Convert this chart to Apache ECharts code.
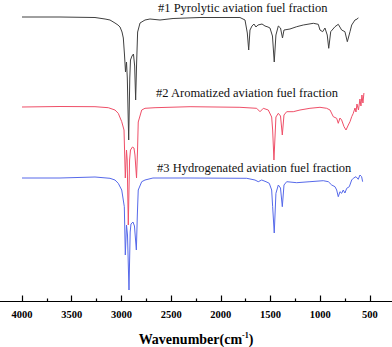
<!DOCTYPE html>
<html>
<head>
<meta charset="utf-8">
<script src="https://cdn.jsdelivr.net/npm/echarts@6/dist/echarts.min.js"></script>
<style>
  html, body { margin: 0; padding: 0; background: #fff; }
  #ftir { width: 392px; height: 347px; }
</style>
</head>
<body>
<div id="ftir"></div>
<script>
// FTIR spectra, [wavenumber (cm-1), offset signal (a.u.)]
const pyrolytic = [
  [4000, 284.5], [3618, 284.5], [3266, 284], [3165, 282.5], [3115, 281.5], [3065, 278.5],
  [3035, 276.5], [3014, 274.5], [2994, 269.5], [2981, 263.5], [2969, 246.5], [2959, 229.5],
  [2949, 239.5], [2941, 223.5], [2927, 161.5], [2916, 223.5], [2909, 241.5], [2894, 245.5],
  [2879, 247.5], [2867, 235.5], [2857, 201.5], [2847, 239.5], [2837, 269.5], [2813, 278.5],
  [2763, 281.5], [2713, 282.5], [2612, 281.5], [2481, 283], [2210, 284], [1808, 284],
  [1757, 281.5], [1734, 268.5], [1720, 251.5], [1707, 271.5], [1687, 275.5], [1667, 277.5],
  [1647, 274.5], [1627, 276.5], [1586, 277.5], [1556, 275.5], [1526, 274.5], [1506, 273.5],
  [1481, 265.5], [1463, 239.5], [1446, 266.5], [1422, 275.5], [1400, 273.5], [1380, 263.5],
  [1365, 271.5], [1305, 272.5], [1237, 274.8], [1171, 276.5], [1070, 278.2], [1020, 277.2],
  [1003, 271.5], [976, 269.8], [953, 273.5], [930, 266.5], [915, 253.2], [895, 269.8],
  [852, 274.8], [819, 277.2], [785, 271.5], [752, 269.8], [728, 259.8], [701, 269.8],
  [684, 276.5], [651, 281.5], [628, 282.5], [618, 283.8]
];
const aromatized = [
  [4000, 194.5], [3618, 195], [3266, 194.8], [3132, 193.8], [3065, 191.5], [3032, 188.2],
  [2997, 179.8], [2974, 171.5], [2961, 123.5], [2949, 151.5], [2942, 141.5], [2931, 76.5],
  [2918, 141.5], [2909, 151.5], [2889, 154.5], [2874, 153.5], [2864, 146.5], [2848, 123.5],
  [2838, 151.5], [2831, 179.5], [2796, 191.5], [2763, 193.2], [2662, 193.8], [2310, 194.8],
  [1808, 194.2], [1640, 193.2], [1606, 189.8], [1573, 193.2], [1523, 191.5], [1489, 184.5],
  [1479, 171.5], [1466, 141.5], [1446, 184.5], [1422, 188.2], [1400, 185.5], [1382, 166.5],
  [1365, 186.5], [1338, 189.8], [1272, 189.8], [1204, 191.5], [1104, 193.2], [1003, 194.2],
  [936, 193.2], [902, 191.5], [869, 184.8], [835, 183.2], [819, 178.2], [802, 183.5],
  [785, 181.5], [761, 174.8], [741, 171.5], [718, 176.5], [701, 179.8], [684, 184.8],
  [668, 188.2], [651, 193.5], [641, 189.5], [631, 197.5], [616, 191.5], [601, 202.5],
  [591, 195.5], [581, 206.5], [571, 198.5], [561, 208.5]
];
const hydrogenated = [
  [4000, 123.5], [3618, 123.5], [3266, 124.5], [3115, 123.2], [3065, 121.5], [3032, 118.2],
  [2997, 111.5], [2971, 94.8], [2961, 46.5], [2949, 76.5], [2939, 66.5], [2924, 11.5],
  [2912, 69.5], [2904, 77.5], [2884, 79.5], [2869, 75.5], [2850, 51.5], [2840, 86.5],
  [2831, 111.5], [2796, 119.8], [2763, 121.5], [2683, 123.5], [2310, 123.5], [1740, 123.2],
  [1657, 121.5], [1624, 119.8], [1589, 121.5], [1546, 119.8], [1513, 118.2], [1489, 111.5],
  [1479, 94.8], [1463, 68.5], [1446, 108.2], [1422, 116.5], [1400, 113.5], [1382, 94.8],
  [1365, 116.5], [1338, 119.8], [1237, 118.8], [1104, 119.8], [970, 120.8], [919, 119.8],
  [885, 116.5], [852, 114.8], [835, 111.5], [819, 104.8], [802, 109.8], [785, 108.2],
  [769, 111.5], [752, 108.5], [734, 113.2], [708, 114.8], [684, 121.5], [668, 123.2],
  [641, 124.8], [618, 122.2], [601, 126.5], [584, 124.8], [574, 119.8]
];
const seriesNames = [
  "#1 Pyrolytic aviation fuel fraction",
  "#2 Aromatized aviation fuel fraction",
  "#3 Hydrogenated aviation fuel fraction"
];
const seriesColors = ["#404040", "#ef4f68", "#5669ea"];
// tick labels shown on the wavenumber axis
const tickLabels = [4000, 3500, 3000, 2500, 2000, 1500, 1000, 500];

const serif = '"Liberation Serif", "Times New Roman", serif';

let chartDom = document.getElementById("ftir");
let chart = echarts.init(chartDom, null, { renderer: "svg" });

const spectra = [pyrolytic, aromatized, hydrogenated];
const seriesData = spectra.map((item, index) => {
  return {
    name: seriesNames[index],
    type: "line",
    data: item,
    showSymbol: false,
    symbol: "none",
    smooth: false,
    silent: true,
    lineStyle: { color: seriesColors[index], width: 1 },
  };
});

// label positions for the three traces
const labelPos = [[158, 7.5], [156, 93], [157, 168]];

let option = {
  animation: false,
  backgroundColor: "#fff",
  grid: {
    // axis runs 0..4500 so that 4000..500 ticks line up; the ends fall off canvas
    left: -27.7,
    right: -27.7,
    top: 1.5,
    bottom: 45.5,
    containLabel: false,
    outerBoundsMode: "none",
  },
  xAxis: {
    type: "value",
    inverse: true,
    min: 0,
    max: 4500,
    interval: 500,
    name: "{b|Wavenumber(cm}{s|-1}{b|)}",
    nameLocation: "middle",
    nameGap: 30,
    nameTextStyle: {
      rich: {
        b: { fontFamily: serif, fontWeight: "bold", fontSize: 14, color: "#000" },
        s: { fontFamily: serif, fontWeight: "bold", fontSize: 8, color: "#000", verticalAlign: "top", padding: [0, 0, 8, 0] },
      },
    },
    axisLine: { onZero: false, lineStyle: { color: "#000", width: 1.2 } },
    axisTick: { inside: true, length: 6, lineStyle: { color: "#000", width: 1.2 } },
    minorTick: { show: true, splitNumber: 2, length: 3, lineStyle: { color: "#000", width: 1.2 } },
    splitLine: { show: false },
    axisLabel: {
      margin: 7,
      fontFamily: serif,
      fontWeight: "bold",
      fontSize: 10.5,
      color: "#000",
      formatter: (v) => (tickLabels.indexOf(v) >= 0 ? String(v) : ""),
    },
  },
  yAxis: {
    type: "value",
    min: 0,
    max: 300,
    show: false,
  },
  graphic: seriesNames.map((name, index) => {
    return {
      type: "text",
      x: labelPos[index][0],
      y: labelPos[index][1],
      silent: true,
      style: {
        text: name,
        font: "12.5px " + serif,
        fill: "#111",
        verticalAlign: "middle",
      },
    };
  }),
  series: seriesData,
};

option && chart.setOption(option);
</script>
</body>
</html>
